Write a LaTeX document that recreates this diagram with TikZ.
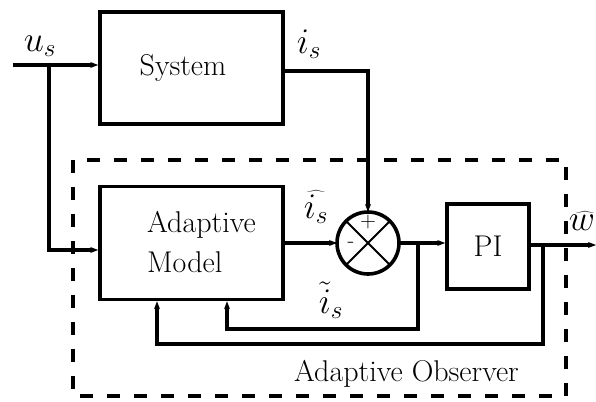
\RequirePackage{fix-cm}
\documentclass[tikz,border=0pt]{standalone}
\usetikzlibrary{arrows.meta}
\begin{document}
\begin{tikzpicture}[x=1pt,y=-1pt,
  blk/.style={draw,line width=3.6pt,inner sep=0pt},
  wire/.style={line width=3.2pt},
  arr/.style={wire,-{Stealth[length=8pt,width=6pt]}},
  lbl/.style={font=\fontsize{30}{40}\selectfont,inner sep=0pt},
  mlbl/.style={font=\fontsize{30}{40}\selectfont,inner sep=0pt},
  sgn/.style={font=\fontsize{22}{24}\selectfont,inner sep=0pt},
  frame/.style={line width=4pt,dash pattern=on 13pt off 14pt}]
\useasboundingbox (0,0) rectangle (596,401);
% dashed frame
\draw[frame] (73,160) rectangle (566,396);
% blocks
\node[blk,minimum width=183pt,minimum height=112pt] (sys) at (191.5,68) {};
\node[blk,minimum width=183pt,minimum height=113pt] (model) at (191.5,243) {};
\node[blk,minimum width=82pt,minimum height=85pt] (pi) at (488,246.5) {};
\node[blk,circle,minimum size=62pt,outer sep=0pt] (sum) at (368,243) {};
\draw[line width=2pt] (sum.north west) -- (sum.south east);
\draw[line width=2pt] (sum.north east) -- (sum.south west);
% texts
\node[lbl] (tsys) at (183,68) {System};
\node[lbl,align=left,anchor=west] (tmodel) at (147,242) {Adaptive\\Model};
\node[lbl] (tpi) at (488,246) {PI};
\node[lbl] (tobs) at (406.5,374) {Adaptive Observer};
\node[sgn] (plus) at (368,222) {+};
\node[sgn] (minus) at (351,245) {-};
% signal labels
\node[mlbl] (lus) at (40,46) {\scalebox{1.2}{$u_s$}};
\node[mlbl] (lis) at (309,44) {\scalebox{1.2}{$i_s$}};
\node[mlbl] (lhis) at (316,207) {\scalebox{1.2}{$\widehat{i_s}$}};
\node[mlbl] (ltis) at (331,300) {\scalebox{1.2}{$\tilde{i}_s$}};
\node[mlbl] (lw) at (582,221) {\scalebox{1.2}{$\widehat{w}$}};
% connectors
\coordinate (in) at (13,65);
\coordinate (br) at (49,65);
\coordinate (br2) at (49,250);
\draw[arr] (in) -- (in -| sys.west);
\draw[arr] (br) -- (br2) -- (br2 -| model.west);
\coordinate (is) at (368,71);
\draw[arr] (is -| sys.east) -- (is) -- (sum.north);
\draw[arr] (model.east |- sum.west) -- (sum.west);
\draw[arr] (sum.east) -- (sum.east -| pi.west);
\coordinate (out) at (596,245);
\draw[arr] (out -| pi.east) -- (out);
\coordinate (t1) at (418,243);
\coordinate (f1) at (227,329);
\draw[arr] (t1) |- (f1) -- (f1 |- model.south);
\coordinate (t2) at (543,245);
\coordinate (f2) at (157,344);
\draw[arr] (t2) |- (f2) -- (f2 |- model.south);
\end{tikzpicture}
\end{document}
